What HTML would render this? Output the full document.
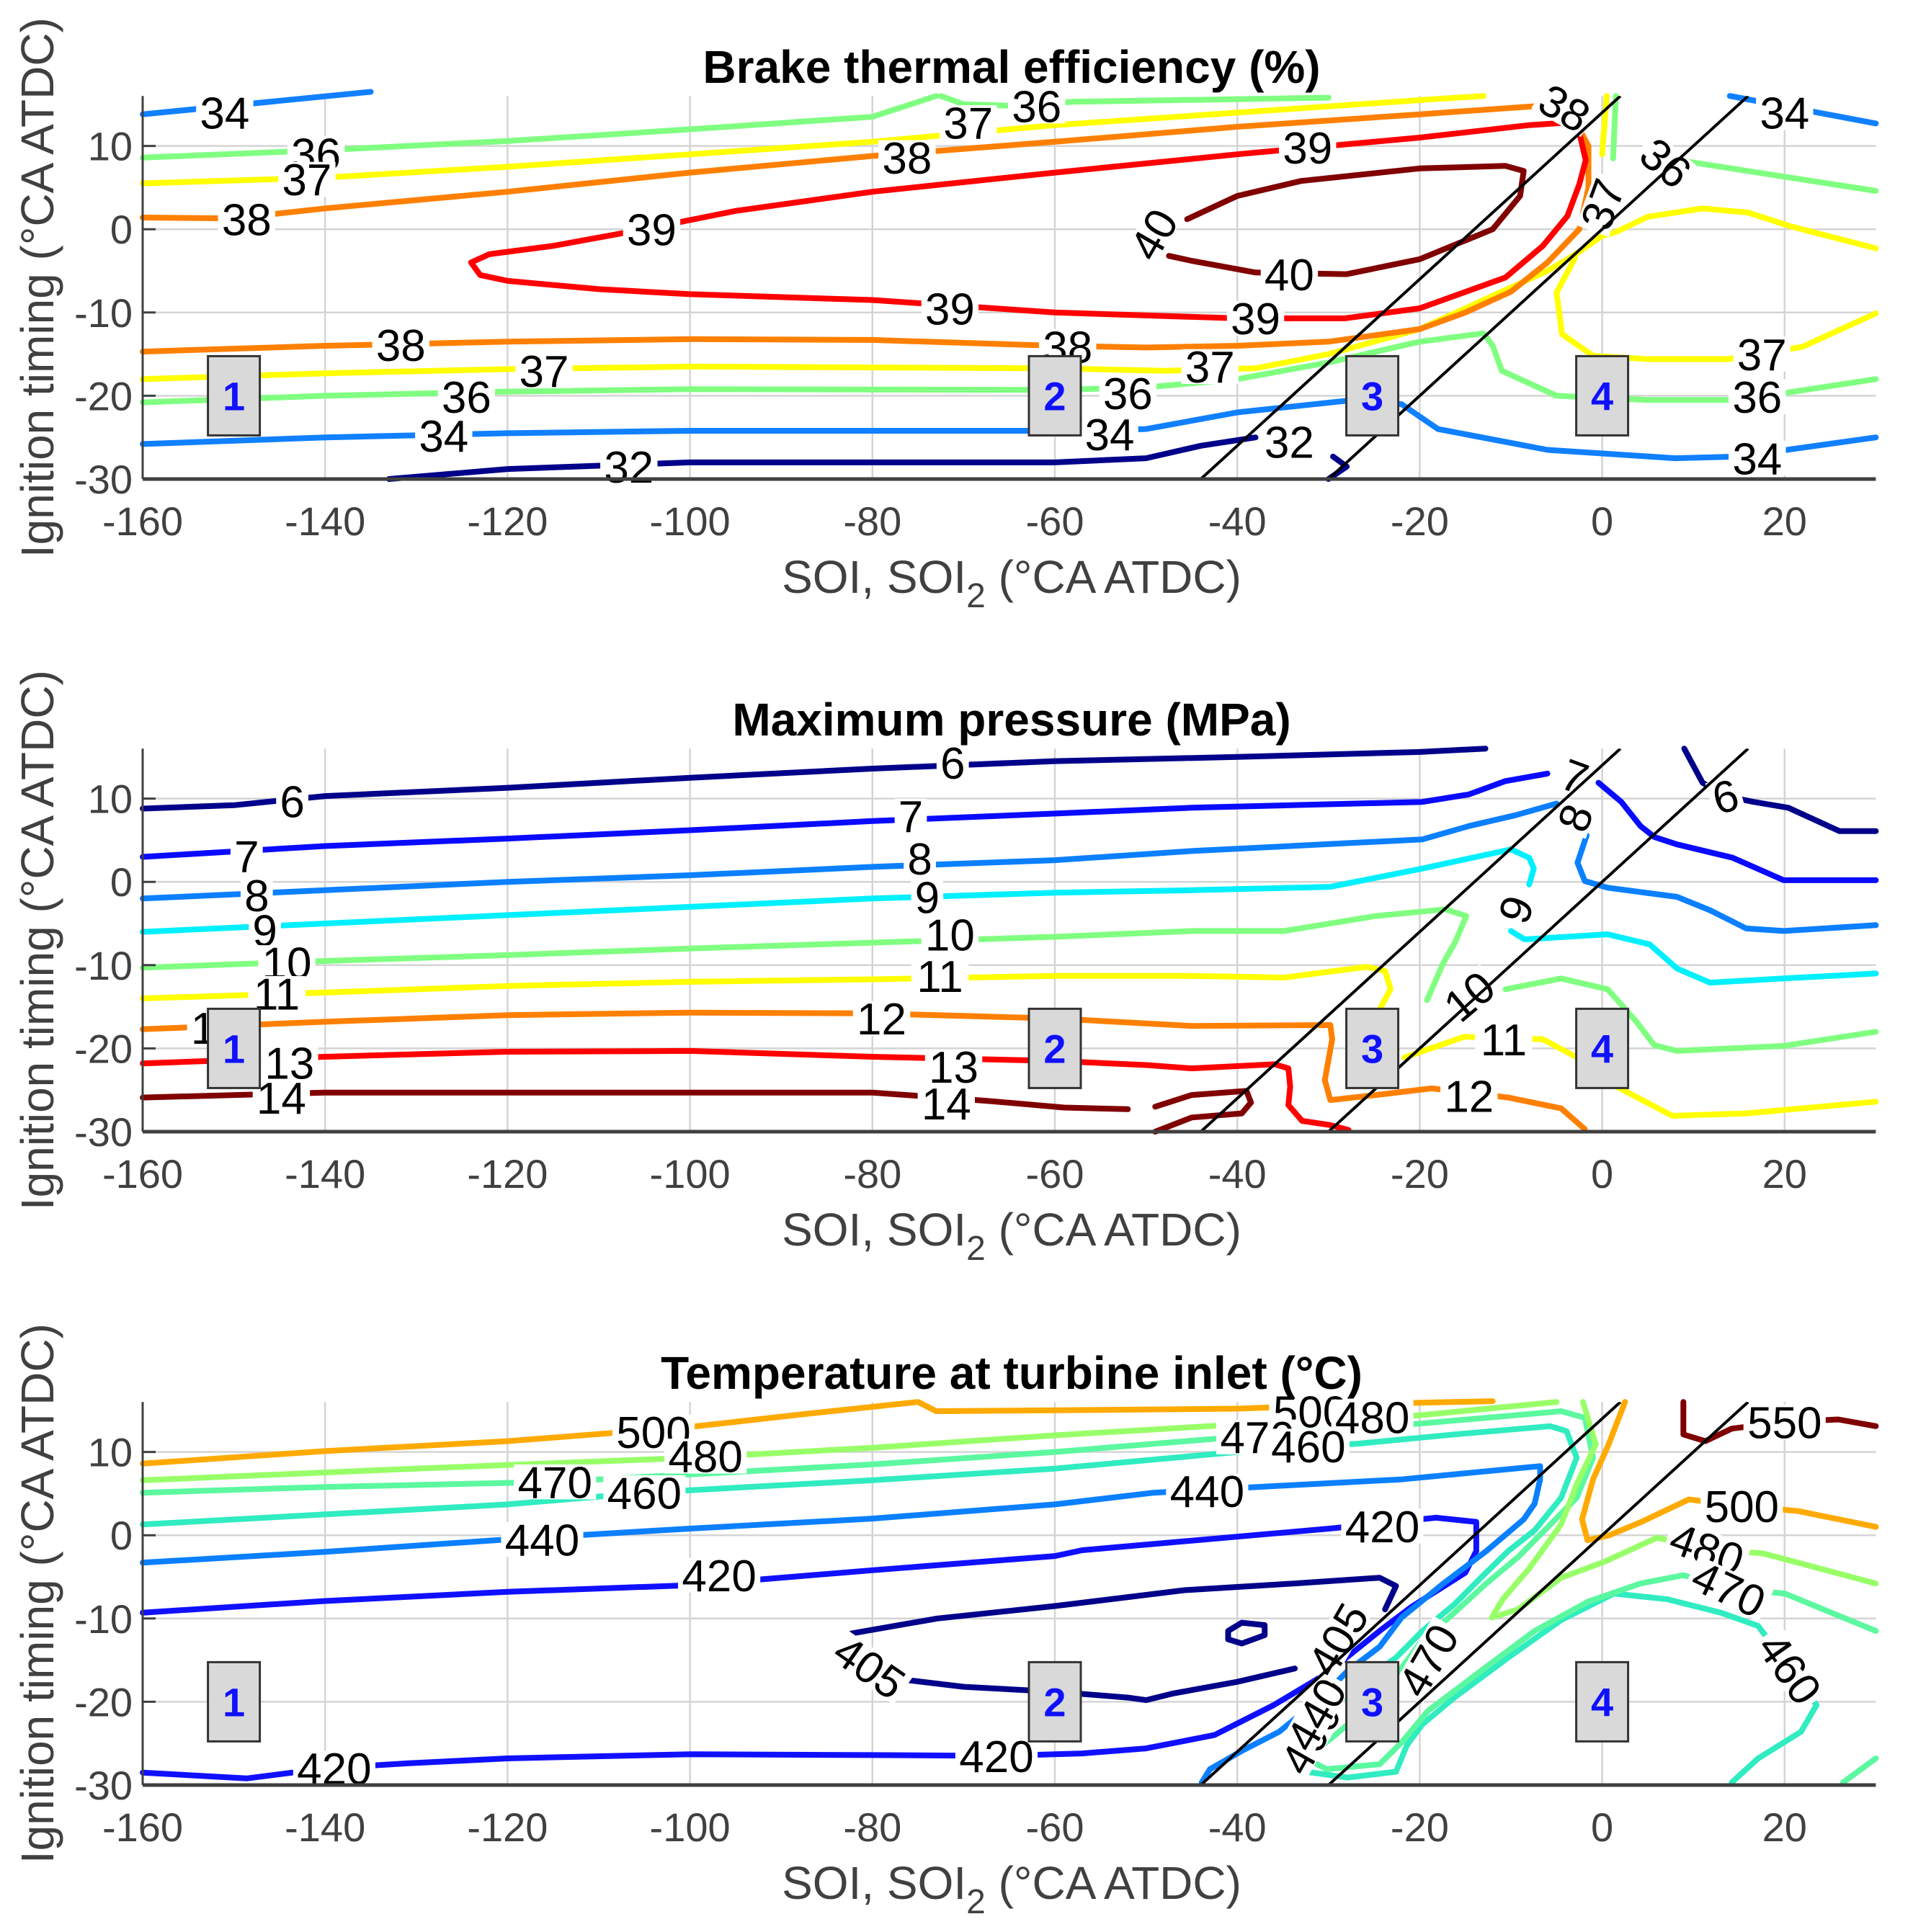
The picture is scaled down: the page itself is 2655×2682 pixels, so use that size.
<!DOCTYPE html>
<html><head><meta charset="utf-8"><style>
html,body{margin:0;padding:0;background:#fff;}
svg{display:block;font-family:"Liberation Sans",Arial,sans-serif;}
</style></head><body>
<svg id="fig" xmlns="http://www.w3.org/2000/svg" width="2655" height="2682" viewBox="0 0 2655 2682"></svg>
<script>
// ---------- shared axes data ----------
const xTicks = [-160,-140,-120,-100,-80,-60,-40,-20,0,20];
const yTicks = [-30,-20,-10,0,10];
const boxXs = [-150,-60,-25.2,0];
const boxLabels = ["1","2","3","4"];
const sepLineOffsets = [14,0]; // y = x + c

// ---------- panel 1: brake thermal efficiency ----------
const bte32a=[[-133,-30],[-120,-28.8],[-100,-28],[-60,-28],[-50,-27.5],[-44,-26],[-38,-25]];
const bte32b=[[-29.5,-27.3],[-28,-28.5],[-30,-30]];
const bte34a=[[-160,13.8],[-135,16.5]];
const bte34b=[[14,16],[30,12.7]];
const bte34c=[[-160,-25.8],[-140,-25],[-120,-24.5],[-100,-24.2],[-60,-24.2],[-50,-24],[-40,-22],[-28,-20.6],[-22,-21],[-18,-24],[-6,-26.5],[8,-27.5],[15,-27.3],[30,-25]];
const bte36a=[[-160,8.6],[-140,9.5],[-120,10.6],[-100,12],[-80,13.5],[-73,16]];
const bte36b=[[-72.5,16],[-70,15],[-64,14.8],[-58,15.3],[-30,15.8]];
const bte36c=[[1.5,16],[1.2,8.5]];
const bte36d=[[8.3,8.3],[30,4.6]];
const bte36e=[[-160,-20.8],[-140,-20],[-120,-19.5],[-100,-19.2],[-60,-19.3],[-50,-19],[-40,-18],[-30,-16],[-20,-13.5],[-13,-12.5],[-12,-14],[-11,-17],[-5,-20],[5,-20.5],[15,-20.5],[30,-18]];
const bte37a=[[-160,5.5],[-140,6.2],[-120,7.5],[-100,9],[-80,10.5],[-60,12.5],[-40,14],[-20,15.5],[-13,16]];
const bte37b=[[0.5,16],[0,9]];
const bte37c=[[-160,-18],[-140,-17.3],[-120,-16.8],[-100,-16.5],[-60,-16.7],[-48,-17],[-38,-16.7],[-30,-15],[-20,-12],[-12,-8],[-6,-5],[-3.8,-3.6],[-2.5,-2.7],[0,-0.8],[1.6,-0.3],[5,1.5],[11,2.5],[16,2],[20.5,0.4],[30,-2.3]];
const bte37d=[[-3,-3.5],[-5,-7.6],[-4.4,-12.6],[-1,-15.2],[5,-15.6],[13.8,-15.6],[17.5,-15],[22,-14.1],[30,-10.1]];
const bte38=[[-160,1.4],[-150,1.3],[-140,2.5],[-120,4.5],[-100,6.8],[-80,8.8],[-60,10.5],[-40,12.3],[-20,13.8],[-7,14.8],[-3,13],[-1.5,10],[-1.5,5],[-2.5,0],[-6,-4],[-10,-7.5],[-15,-10],[-20,-12],[-30,-13.5],[-40,-14],[-50,-14.2],[-60,-14],[-80,-13.3],[-100,-13.2],[-120,-13.5],[-140,-14],[-160,-14.7]];
const bte39=[[-3.8,12.8],[-2.5,11.6],[-1.8,8.3],[-2.5,5.4],[-3.8,1.6],[-6.5,-2],[-10.6,-5.8],[-20,-9.5],[-28.2,-10.7],[-40,-10.7],[-60,-10],[-80,-8.5],[-100,-7.8],[-110,-7.2],[-120,-6.2],[-123,-5.5],[-124,-4],[-122,-3],[-115,-2],[-105,0],[-95,2.2],[-80,4.5],[-60,6.8],[-40,9],[-20,11],[-8,12.5],[-3.8,12.8]];
const bte40=[[-47.5,-3.2],[-45,-3.8],[-38,-5.2],[-28,-5.4],[-20,-3.6],[-12,0],[-9,4],[-8.6,7],[-10.6,7.6],[-20,7.3],[-33,5.8],[-40,4],[-45.5,1.2]];
const bteLabels=[[34,-151,14,0],[34,20,14,0],[34,-127,-24.8,0],[34,-54,-24.6,0],[34,17,-27.5,0],[32,-106.7,-28.5,0],[32,-34.3,-25.5,0],[36,-141,9.1,0],[36,-62,14.8,0],[36,7,8,40],[36,-124.5,-20.1,0],[36,-52,-19.7,0],[36,17,-20.1,0],[37,-142,6,0],[37,-69.5,12.8,0],[37,0,3,-70],[37,-116,-17,0],[37,-43,-16.5,0],[37,17.5,-15,0],[38,-148.6,1.2,0],[38,-76.2,8.6,0],[38,-4.1,14.6,30],[38,-131.7,-13.9,0],[38,-58.6,-14.1,0],[39,-104.2,0,0],[39,-71.5,-9.5,0],[39,-32.3,9.8,0],[39,-38,-10.7,0],[40,-49.2,-0.6,-60],[40,-34.3,-5.4,0]];
const bteColors={32:"#00008a",34:"#1080ff",36:"#80ff80",37:"#ffff00",38:"#ff8000",39:"#ff0000",40:"#800000"};

// ---------- panel 2: maximum pressure ----------
const mp6a=[[-160,8.8],[-150,9.2],[-140,10.3],[-120,11.3],[-100,12.5],[-80,13.6],[-60,14.5],[-40,15],[-20,15.6],[-12.8,16]];
const mp6b=[[9,16],[11,11.9],[13.5,10.3],[16.6,9.6],[20.4,8.9],[26,6.1],[30,6.1]];
const mp7a=[[-160,3],[-140,4.3],[-120,5.2],[-100,6.2],[-80,7.3],[-60,8.2],[-45,8.9],[-19.7,9.6],[-14.6,10.5],[-10.6,12.1],[-6,13]];
const mp7b=[[-0.4,11.9],[2.1,9.6],[4.2,6.7],[5.7,5.4],[8.2,4.5],[14.3,2.9],[19.9,0.2],[30,0.2]];
const mp8a=[[-160,-2],[-140,-1],[-120,0],[-100,0.8],[-80,1.8],[-60,2.6],[-45,3.7],[-19.7,5.1],[-14.6,6.7],[-9.5,8],[-5,9.4]];
const mp8b=[[-1.7,5.6],[-2.7,2.3],[-1.9,0.1],[0.6,-0.7],[8.2,-1.8],[11.8,-3.4],[15.8,-5.6],[19.9,-5.9],[30,-5.2]];
const mp9a=[[-160,-6],[-140,-5],[-120,-4],[-100,-3],[-80,-2],[-60,-1.3],[-45,-1],[-29.8,-0.6],[-19.7,1.6],[-10,3.9],[-8,2.9],[-7.5,1.6],[-8,-0.3]];
const mp9b=[[-10,-5.9],[-8.5,-6.9],[0.6,-6.3],[5.2,-7.5],[8.2,-10.4],[11.8,-12.1],[19.9,-11.6],[30,-11]];
const mp10a=[[-160,-10.3],[-140,-9.5],[-120,-8.8],[-100,-8],[-80,-7.3],[-60,-6.6],[-45,-5.9],[-34.9,-5.9],[-24.8,-4.1],[-17.2,-3.3],[-14.9,-4.1],[-16.1,-7.2],[-17.4,-9.7],[-19.2,-14.2]];
const mp10b=[[-10.6,-12.9],[-4.5,-11.6],[0.6,-12.9],[3.7,-16.7],[5.7,-19.6],[8.2,-20.3],[19.9,-19.7],[30,-18]];
const mp11a=[[-160,-14],[-140,-13.3],[-120,-12.5],[-100,-12],[-80,-11.7],[-60,-11.3],[-45,-11.3],[-34.9,-11.5],[-25.8,-10.2],[-23.8,-10.7],[-23.2,-12.9],[-24.3,-15.1]];
const mp11b=[[-21.7,-21.1],[-15.1,-18.6],[-6.5,-18.9],[-2.9,-21],[1.6,-24.6],[7.7,-28.1],[15.8,-27.8],[30,-26.4]];
const mp12=[[-160,-17.7],[-140,-16.8],[-120,-16],[-100,-15.7],[-80,-15.8],[-60,-16.4],[-50,-17],[-45,-17.3],[-29.8,-17.2],[-29.6,-18.9],[-30.4,-23.8],[-29.8,-26.2],[-24.8,-25.6],[-18.7,-24.8],[-10.3,-25.9],[-4.5,-27.2],[-1.9,-29.7]];
const mp13=[[-160,-21.8],[-140,-21],[-120,-20.4],[-100,-20.3],[-80,-21],[-60,-21.5],[-50,-22],[-45,-22.4],[-35.9,-21.9],[-34.4,-22.4],[-34.2,-24.6],[-34.4,-26.8],[-32.9,-28.7],[-29.8,-29.2],[-27.8,-29.8]];
const mp14a=[[-160,-25.9],[-140,-25.3],[-100,-25.3],[-80,-25.3],[-67.4,-26.3],[-59,-27.1],[-52,-27.3]];
const mp14b=[[-49,-30],[-45,-28.3],[-39.5,-27.8],[-38.5,-26.5],[-39,-25.1],[-45,-25.6],[-49,-27]];
const mpLabels=[[6,-143.6,9.7,0],[6,-71.2,14.3,0],[6,13.5,10.3,-15],[7,-148.6,3.1,0],[7,-75.8,7.9,0],[7,-3,12.7,20],[8,-147.5,-1.6,0],[8,-74.8,2.8,0],[8,-3,7.7,-70],[9,-146.6,-5.8,0],[9,-74,-1.8,0],[9,-9.5,-3.3,-70],[10,-144.2,-9.7,0],[10,-71.5,-6.3,0],[10,-14.6,-13.7,-40],[11,-145.3,-13.4,0],[11,-72.6,-11.3,0],[11,-10.8,-18.9,0],[12,-152,-17.5,0],[12,-79,-16.4,0],[12,-14.6,-25.7,0],[13,-143.9,-21.7,0],[13,-71.1,-22.2,0],[14,-144.8,-25.9,0],[14,-71.9,-26.6,0]];
const mpColors={6:"#00008a",7:"#0a0aff",8:"#0a80ff",9:"#00f0ff",10:"#80ff80",11:"#ffff00",12:"#ff8000",13:"#ff0000",14:"#800000"};

// ---------- panel 3: turbine inlet temperature ----------
const t405a=[[-82.3,-11.8],[-72.9,-10],[-60,-8.5],[-45.8,-6.6],[-33.8,-5.8],[-24.4,-5.1],[-22.6,-6.1],[-23.8,-8.9]];
const t405b=[[-76.9,-17.3],[-70,-18.2],[-60,-18.8],[-52,-19.5],[-50,-19.8],[-47,-19],[-40,-17.6],[-33.7,-16]];
const t405c=[[-41,-11.5],[-39.5,-10.5],[-37,-10.8],[-37,-12],[-39.5,-13],[-41,-12.5],[-41,-11.5]];
const t420=[[-160,-9.3],[-140,-7.9],[-120,-6.8],[-100,-6],[-80,-4.2],[-60,-2.5],[-57,-1.8],[-29.9,0.8],[-18.2,2.1],[-13.8,1.6],[-13.8,-1.9],[-15,-4.5],[-20.9,-8.6],[-24.4,-11.5],[-30.2,-16.6],[-36,-20.4],[-42.5,-24],[-50,-25.6],[-57,-26.2],[-66,-26.5],[-80,-26.4],[-100,-26.3],[-120,-26.8],[-131,-27.4],[-140,-28],[-148.6,-29.2],[-160,-28.5]];
const t440=[[-160,-3.3],[-140,-2],[-120,-0.5],[-100,0.8],[-80,2],[-60,3.7],[-49.2,5.1],[-37.8,5.8],[-22,6.7],[-6.8,8.3],[-6.8,6.7],[-7.4,3.8],[-8.6,1.9],[-12.7,-1.9],[-17.4,-5.8],[-22,-9.9],[-24.4,-13.4],[-27.9,-16.3],[-30.8,-19.5],[-35.4,-23.6],[-39.5,-25.9],[-43,-28.1],[-43.9,-29.7]];
const t460=[[-160,1.3],[-140,2.5],[-120,3.7],[-105,5.1],[-80,6.6],[-60,8],[-40,10],[-26.7,11],[-16.2,12.1],[-5.7,13.1],[-3.9,12.5],[-2.8,9.3],[-4.5,4.5],[-7.4,0.6],[-10.3,-1.9],[-13.3,-5.1],[-16.2,-8.3],[-19.7,-11.5],[-22.6,-14.7],[-26.7,-17.9],[-31,-22],[-34.9,-26.5],[-32.5,-28.4],[-27.9,-29.1],[-22.6,-28.4],[-21.4,-25.2],[-19.7,-22.7],[-16.2,-19.5],[-10.3,-14.7],[-4.5,-10.2],[1.3,-7],[7.2,-7.7],[13,-9.3],[17.1,-10.9],[20.6,-16],[23.5,-20.4],[21.8,-23.6],[17.1,-26.8],[14.2,-29.7]];
const t470a=[[-160,5.1],[-140,5.8],[-115,6.4],[-100,7.3],[-80,8.5],[-60,10],[-40,11.8],[-30,12.8],[-20,13.4],[-4.5,14.9],[-1.9,14.1],[-1,9.3],[-2.8,4.5],[-6.3,0.6],[-9.2,-2.6],[-12.7,-5.8],[-16.2,-9.3],[-20,-13],[-24.4,-19.5],[-29.6,-24.3],[-32.5,-26.8],[-30.2,-28.1],[-24.4,-27.5],[-22,-24.9],[-19.1,-21.1],[-13.3,-16.3],[-7.4,-11.5],[-1.6,-8],[4.2,-5.8],[8.9,-4.8],[13.9,-6.4],[20,-7],[30,-11.5]];
const t470b=[[26.4,-29.7],[30,-26.8]];
const t480a=[[-160,6.6],[-130,8],[-100,9.3],[-80,10.5],[-60,12],[-40,13.3],[-20,14.4],[-5,16]];
const t480b=[[-2.1,16],[-0.7,10.9],[-2.8,6.1],[-4.5,1.3],[-8,-4],[-10.9,-7.7],[-12.1,-9.9],[-9.2,-8.9],[-4.5,-5.1],[0.2,-3.2],[6,-0.3],[11.5,-1.6],[17.7,-2.2],[30,-5.8]];
const t500a=[[-160,8.6],[-140,10.1],[-120,11.3],[-100,13],[-87,14.6],[-75,16],[-73,14.9],[-60,15],[-40,15.2],[-25,15.8],[-12,16.1]];
const t500b=[[2.5,16],[0.7,10.9],[-1,6.7],[-2.2,1.9],[-1.6,-0.6],[0.8,0],[4.3,1.6],[9.5,4.3],[15.3,3.5],[21.5,2.9],[30,1]];
const t550=[[8.9,16],[8.9,12.1],[11.3,11.3],[14.2,12.8],[20,13.6],[25.9,13.9],[30,13.1]];
const tLabels=[[500,-104,12.4,0],[500,-32,14.9,0],[500,15.3,3.5,0],[480,-98.3,9.5,0],[480,-25.2,14.2,0],[480,11.5,-1.6,20],[470,-114.8,6.4,0],[470,-37.8,11.8,0],[470,13.9,-6.4,25],[470,-19.1,-15,-60],[460,-105,5.1,0],[460,-32.2,10.7,0],[460,20.6,-16,55],[460,-32,-24.3,-60],[440,-116.2,-0.5,0],[440,-43.3,5.3,0],[440,-31.4,-21.5,-60],[420,-96.8,-4.8,0],[420,-24.1,1.1,0],[420,-66.4,-26.5,0],[420,-139,-28,0],[405,-80.3,-15.8,35],[405,-29,-12.5,-60],[550,20,13.6,0]];
const tColors={405:"#00008a",420:"#1010ff",440:"#0a80ff",460:"#30ecc0",470:"#5cf8a0",480:"#98ff68",500:"#ffaa00",550:"#800000"};

const NS="http://www.w3.org/2000/svg";
const svg=document.getElementById('fig');
function mk(tag,attrs,parent){const e=document.createElementNS(NS,tag);for(const k in attrs)e.setAttribute(k,attrs[k]);(parent||svg).appendChild(e);return e;}

const X0=198, XS=12.66, YS=11.56;
function sx(x){return X0+(x+160)*XS;}
function makeSy(bottom){return y=>bottom-(y+30)*YS;}

function drawPanel(name,bottom,title,contours,labels,colors){
  const sy=makeSy(bottom);
  const g=mk('g',{});
  
  
  const xl=sx(-160), xr=sx(30), yt=sy(16), yb=sy(-30);
  xTicks.forEach(t=>{const l=mk('line',{x1:sx(t),x2:sx(t),y1:yt,y2:yb,stroke:'#d4d4d4','stroke-width':2.5},g);
    
    });
  yTicks.forEach(t=>{const l=mk('line',{x1:xl,x2:xr,y1:sy(t),y2:sy(t),stroke:'#d4d4d4','stroke-width':2.5},g);
    
    });
  contours.forEach(c=>{
    const d=c.pts.map((p,i)=>(i?'L':'M')+sx(p[0]).toFixed(1)+' '+sy(p[1]).toFixed(1)).join(' ');
    const p=mk('path',{d:d,fill:'none',stroke:colors[c.level],'stroke-width':8,'stroke-linejoin':'round','stroke-linecap':'round'},g);
    
    
  });
  labels.forEach(L=>{
    const txt=String(L[0]), fs=62, w=txt.length*fs*0.56+10, h=fs*0.78;
    const lg=mk('g',{transform:`translate(${sx(L[1]).toFixed(1)},${sy(L[2]).toFixed(1)}) rotate(${L[3]})`},g);
    
    
    mk('rect',{x:-w/2,y:-h/2,width:w,height:h,fill:'#fff'},lg);
    const t=mk('text',{x:0,y:fs*0.36,'text-anchor':'middle','font-size':fs,fill:'#000'},lg);
    t.textContent=txt;
  });
  const clip='clip-'+name;
  const cp=mk('clipPath',{id:clip},g);mk('rect',{x:xl,y:yt,width:xr-xl,height:yb-yt},cp);
  sepLineOffsets.forEach(c=>{
    const l=mk('line',{x1:sx(-30-c),y1:sy(-30),x2:sx(16-c),y2:sy(16),stroke:'#000','stroke-width':4,'clip-path':`url(#${clip})`},g);
    
    
  });
  boxXs.forEach((bx,i)=>{
    const bg=mk('g',{},g);
    
    
    const cx=sx(bx), cy=sy(-20);
    mk('rect',{x:cx-36,y:cy-55,width:72,height:110,fill:'#d9d9d9',stroke:'#333','stroke-width':3},bg);
    const t=mk('text',{x:cx,y:cy+20,'text-anchor':'middle','font-size':56,'font-weight':'bold',fill:'#1010ff'},bg);
    t.textContent=boxLabels[i];
  });
  mk('line',{x1:xl,y1:yb,x2:xr,y2:yb,stroke:'#404040','stroke-width':5},g);
  mk('line',{x1:xl,y1:yt,x2:xl,y2:yb,stroke:'#404040','stroke-width':3},g);
  xTicks.forEach(t=>{
    const tx=mk('text',{x:sx(t),y:yb+78,'text-anchor':'middle','font-size':56,fill:'#404040'},g);
    
    
    tx.textContent=String(t);
  });
  yTicks.forEach(t=>{
    mk('line',{x1:xl,x2:xl+18,y1:sy(t),y2:sy(t),stroke:'#404040','stroke-width':3},g);
    const tx=mk('text',{x:xl-14,y:sy(t)+20,'text-anchor':'end','font-size':56,fill:'#404040'},g);
    
    
    tx.textContent=String(t);
  });
  const xt=mk('text',{x:1404,y:yb+158,'text-anchor':'middle','font-size':64,fill:'#404040'},g);
  
  
  xt.innerHTML='SOI, SOI<tspan dy="20" font-size="48">2</tspan><tspan dy="-20"> (°CA ATDC)</tspan>';
  const cyM=(yt+yb)/2;
  const yl=mk('text',{x:0,y:0,transform:`translate(74,${cyM}) rotate(-90)`,'text-anchor':'middle','font-size':64,fill:'#404040'},g);
  
  
  yl.textContent='Ignition timing (°CA ATDC)';
  const tt=mk('text',{x:1404,y:yt-18,'text-anchor':'middle','font-size':64,'font-weight':'bold',fill:'#000'},g);
  
  
  tt.textContent=title;
}

drawPanel('brake-thermal-efficiency',665,'Brake thermal efficiency (%)',[
 {level:32,pts:bte32a},{level:32,pts:bte32b},{level:34,pts:bte34a},{level:34,pts:bte34b},{level:34,pts:bte34c},
 {level:36,pts:bte36a},{level:36,pts:bte36b},{level:36,pts:bte36c},{level:36,pts:bte36d},{level:36,pts:bte36e},
 {level:37,pts:bte37a},{level:37,pts:bte37b},{level:37,pts:bte37c},{level:37,pts:bte37d},
 {level:38,pts:bte38},{level:39,pts:bte39},{level:40,pts:bte40}],bteLabels,bteColors);
drawPanel('maximum-pressure',1571,'Maximum pressure (MPa)',[
 {level:6,pts:mp6a},{level:6,pts:mp6b},{level:7,pts:mp7a},{level:7,pts:mp7b},{level:8,pts:mp8a},{level:8,pts:mp8b},
 {level:9,pts:mp9a},{level:9,pts:mp9b},{level:10,pts:mp10a},{level:10,pts:mp10b},{level:11,pts:mp11a},{level:11,pts:mp11b},
 {level:12,pts:mp12},{level:13,pts:mp13},{level:14,pts:mp14a},{level:14,pts:mp14b}],mpLabels,mpColors);
drawPanel('turbine-inlet-temperature',2478,'Temperature at turbine inlet (°C)',[
 {level:405,pts:t405a},{level:405,pts:t405b},{level:405,pts:t405c},{level:420,pts:t420},{level:440,pts:t440},
 {level:460,pts:t460},{level:470,pts:t470a},{level:470,pts:t470b},{level:480,pts:t480a},{level:480,pts:t480b},
 {level:500,pts:t500a},{level:500,pts:t500b},{level:550,pts:t550}],tLabels,tColors);
</script>
</body></html>
